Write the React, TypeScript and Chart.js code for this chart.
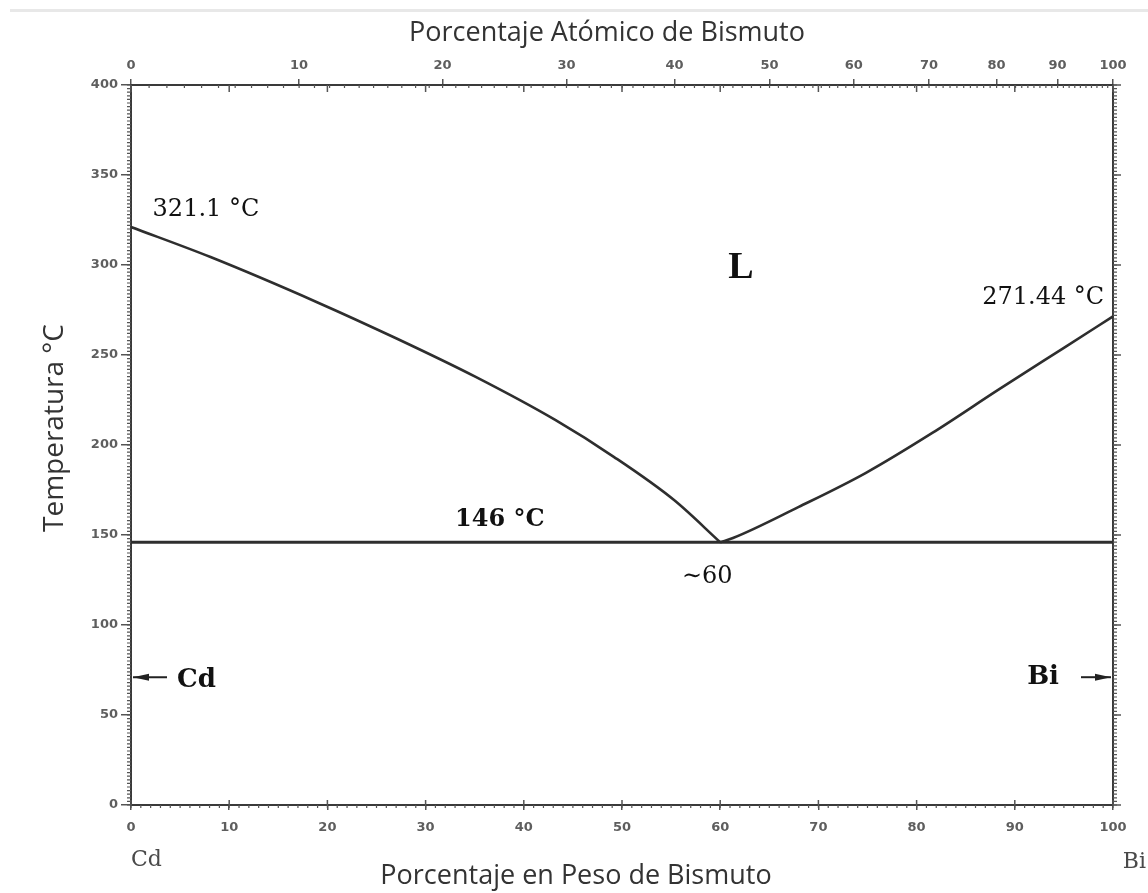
import { useEffect, useRef } from "react";
import { Chart, registerables } from "chart.js";

Chart.register(...registerables);

// Cd–Bi binary phase diagram: temperature (°C) vs. weight percent bismuth
const MELT_CD = 321.1;
const MELT_BI = 271.44;
const EUTECTIC_T = 146;
const EUTECTIC_WT = 60;

// Liquidus, Cd-rich side (wt% Bi, °C)
const liqCdWt = [0, 8.1, 19.0, 27.1, 35.1, 43.2, 49.2, 55.3, EUTECTIC_WT];
const liqCdT = [MELT_CD, 304.4, 279.2, 259.0, 237.8, 213.9, 193.3, 169.4, EUTECTIC_T];

// Liquidus, Bi-rich side
const liqBiWt = [EUTECTIC_WT, 61.3, 68.0, 74.8, 81.6, 88.3, 95.0, 100];
const liqBiT = [EUTECTIC_T, 148.3, 165.6, 184.4, 206.7, 230.6, 254.0, MELT_BI];

// Eutectic isotherm
const eutWt = [0, 100];
const eutT = [EUTECTIC_T, EUTECTIC_T];

// Axis ticks
const weightTicks = [0, 10, 20, 30, 40, 50, 60, 70, 80, 90, 100];
const tempTicks = [0, 50, 100, 150, 200, 250, 300, 350, 400];
const atomicTicks = [0, 10, 20, 30, 40, 50, 60, 70, 80, 90, 100];

// Pure-element marker height on the side axes (°C)
const PURE_MARK_T = 71;

// Molar masses used to convert atomic % to weight % for the top axis
const M_CD = 112.41;
const M_BI = 208.98;
const atomicToWeight = (a: number) => ((a * M_BI) / (a * M_BI + (100 - a) * M_CD)) * 100;

const pts = (xs: number[], ys: number[]) => xs.map((x, i) => ({ x, y: ys[i] }));

const LINE = "#2e2e2e";
const AXIS = "#3a3a3a";
const TICK_FONT = { family: "DejaVu Sans", size: 13, weight: "bold" as const };
const TICK_COLOR = "#5e5e5e";

const decorPlugin = {
  id: "diagramDecor",
  afterDraw(chart: any) {
    const { ctx, chartArea: ca, scales } = chart;
    const xs = scales.x;
    const ys = scales.y;
    ctx.save();

    // minor ticks
    ctx.strokeStyle = "#555";
    ctx.lineWidth = 1.2;
    ctx.beginPath();
    for (let t = 0; t <= 400; t += 2) {
      const py = ys.getPixelForValue(t);
      ctx.moveTo(ca.left - 4, py);
      ctx.lineTo(ca.left, py);
      ctx.moveTo(ca.right, py);
      ctx.lineTo(ca.right + 4, py);
    }
    for (let w = 0; w <= 100; w += 1) {
      const px = xs.getPixelForValue(w);
      ctx.moveTo(px, ca.bottom);
      ctx.lineTo(px, ca.bottom + 3);
    }
    for (let a = 0; a <= 100; a += 1) {
      const px = xs.getPixelForValue(atomicToWeight(a));
      ctx.moveTo(px, ca.top);
      ctx.lineTo(px, ca.top + 3);
    }
    ctx.stroke();

    // weight-% marks along the top and bottom frame
    ctx.lineWidth = 1.5;
    ctx.beginPath();
    for (const w of weightTicks) {
      const px = xs.getPixelForValue(w);
      ctx.moveTo(px, ca.top);
      ctx.lineTo(px, ca.top + 7);
      ctx.moveTo(px, ca.bottom);
      ctx.lineTo(px, ca.bottom - 5);
    }
    for (const t of tempTicks) {
      const py = ys.getPixelForValue(t);
      ctx.moveTo(ca.right, py);
      ctx.lineTo(ca.right + 8, py);
    }
    ctx.stroke();

    // pure-element arrows
    const arrow = (fromX: number, toX: number, y: number) => {
      const dir = Math.sign(toX - fromX);
      ctx.strokeStyle = "#222";
      ctx.fillStyle = "#222";
      ctx.lineWidth = 2;
      ctx.beginPath();
      ctx.moveTo(fromX, y);
      ctx.lineTo(toX, y);
      ctx.stroke();
      ctx.beginPath();
      ctx.moveTo(toX, y);
      ctx.lineTo(toX - dir * 16, y - 3.5);
      ctx.lineTo(toX - dir * 16, y + 3.5);
      ctx.closePath();
      ctx.fill();
    };
    const yPure = ys.getPixelForValue(PURE_MARK_T);
    arrow(ca.left + 36, ca.left + 2, yPure);
    arrow(ca.right - 32, ca.right - 2, yPure);

    ctx.fillStyle = "#111";
    ctx.textBaseline = "middle";
    ctx.font = "bold 26px 'DejaVu Serif'";
    ctx.textAlign = "left";
    ctx.fillText("Cd", ca.left + 46, yPure + 3);
    ctx.textAlign = "right";
    ctx.fillText("Bi", ca.right - 54, yPure);

    // point labels
    ctx.font = "24px 'DejaVu Serif'";
    ctx.textAlign = "left";
    ctx.fillText(`${MELT_CD} °C`, xs.getPixelForValue(2.2), ys.getPixelForValue(MELT_CD + 9.5));
    ctx.textAlign = "right";
    ctx.fillText(`${MELT_BI} °C`, xs.getPixelForValue(99.1), ys.getPixelForValue(MELT_BI + 10.5));
    ctx.font = "bold 24px 'DejaVu Serif'";
    ctx.textAlign = "left";
    ctx.fillText(`${EUTECTIC_T} °C`, xs.getPixelForValue(33.0), ys.getPixelForValue(EUTECTIC_T + 12.3));
    ctx.font = "24px 'DejaVu Serif'";
    ctx.fillText(`\u223C${EUTECTIC_WT}`, xs.getPixelForValue(56.1), ys.getPixelForValue(EUTECTIC_T - 19.3));
    ctx.font = "bold 38px 'Liberation Serif'";
    ctx.textAlign = "center";
    ctx.fillText("L", xs.getPixelForValue(62.1), ys.getPixelForValue(298));

    // end-member names under the weight axis
    ctx.fillStyle = "#4a4a4a";
    ctx.font = "22px 'DejaVu Serif'";
    ctx.textAlign = "left";
    ctx.fillText("Cd", ca.left, 860);
    ctx.textAlign = "right";
    ctx.fillText("Bi", 1146, 862);

    // axis titles
    ctx.fillStyle = "#333";
    ctx.font = "27px 'Open Sans'";
    ctx.textAlign = "center";
    ctx.fillText("Porcentaje Atómico de Bismuto", 607, 33);
    ctx.fillText("Porcentaje en Peso de Bismuto", 576, 876);
    ctx.font = "28px 'Open Sans'";
    ctx.translate(55, 428);
    ctx.rotate(-Math.PI / 2);
    ctx.fillText("Temperatura °C", 0, 0);

    ctx.restore();
  },
};

export default function App() {
  const canvasRef = useRef<HTMLCanvasElement | null>(null);

  useEffect(() => {
    if (!canvasRef.current) return;
    const lineStyle = {
      borderColor: LINE,
      borderWidth: 2.6,
      pointRadius: 0,
      fill: false,
      showLine: true,
      cubicInterpolationMode: "monotone" as const,
      xAxisID: "x",
      yAxisID: "y",
    };
    const chart = new Chart(canvasRef.current, {
      type: "line",
      data: {
        datasets: [
          { label: "Liquidus Cd", data: pts(liqCdWt, liqCdT), ...lineStyle },
          { label: "Liquidus Bi", data: pts(liqBiWt, liqBiT), ...lineStyle },
          { label: "Eutéctica", data: pts(eutWt, eutT), ...lineStyle, borderWidth: 3, cubicInterpolationMode: "default" as const },
        ],
      },
      options: {
        animation: false,
        responsive: true,
        maintainAspectRatio: false,
        layout: { padding: 0 },
        plugins: { legend: { display: false }, tooltip: { enabled: false } },
        scales: {
          x: {
            type: "linear",
            position: "bottom",
            min: 0,
            max: 100,
            afterBuildTicks: (s: any) => {
              s.ticks = weightTicks.map((v) => ({ value: v }));
            },
            ticks: { font: TICK_FONT, color: TICK_COLOR, padding: 10, maxRotation: 0, autoSkip: false },
            grid: { drawOnChartArea: false, tickLength: 5, color: "#555", lineWidth: 1.5 },
            border: { color: AXIS, width: 2 },
            afterFit: (s: any) => {
              s.height = 88;
            },
          },
          x2: {
            type: "linear",
            position: "top",
            min: 0,
            max: 100,
            afterBuildTicks: (s: any) => {
              s.ticks = atomicTicks.map((a) => ({ value: atomicToWeight(a) }));
            },
            ticks: {
              font: TICK_FONT,
              color: TICK_COLOR,
              padding: 6,
              maxRotation: 0,
              autoSkip: false,
              callback: (_v: any, i: number) => String(atomicTicks[i]),
            },
            grid: { drawOnChartArea: false, tickLength: 6, color: "#555", lineWidth: 1.5 },
            border: { color: AXIS, width: 2 },
            afterFit: (s: any) => {
              s.height = 85;
            },
          },
          y: {
            type: "linear",
            position: "left",
            min: 0,
            max: 400,
            afterBuildTicks: (s: any) => {
              s.ticks = tempTicks.map((v) => ({ value: v }));
            },
            ticks: { font: TICK_FONT, color: TICK_COLOR, padding: 3 },
            grid: { drawOnChartArea: false, tickLength: 10, color: "#555", lineWidth: 1.5 },
            border: { color: AXIS, width: 2 },
            afterFit: (s: any) => {
              s.width = 131;
            },
          },
          y2: {
            type: "linear",
            position: "right",
            min: 0,
            max: 400,
            ticks: { display: false },
            grid: { drawOnChartArea: false, drawTicks: false },
            border: { color: AXIS, width: 2 },
            afterFit: (s: any) => {
              s.width = 35;
            },
          },
        },
      },
      plugins: [decorPlugin],
    });
    return () => chart.destroy();
  }, []);

  return (
    <div style={{ position: "absolute", left: 0, top: 0, width: 1148, height: 893, background: "#fff" }}>
      <div style={{ position: "absolute", left: 10, right: 0, top: 9, height: 3, background: "#e8e8e8" }} />
      <canvas ref={canvasRef} style={{ position: "absolute", left: 0, top: 0 }} />
    </div>
  );
}
